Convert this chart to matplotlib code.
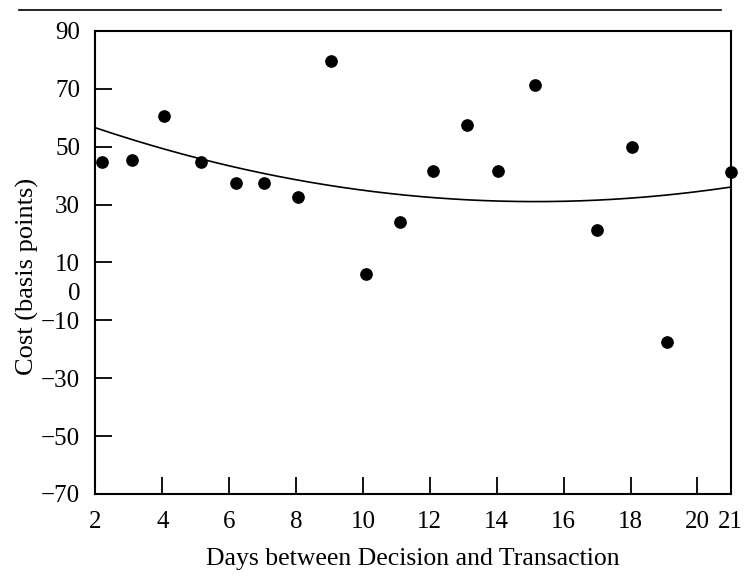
import numpy as np
import matplotlib
matplotlib.use("Agg")
import matplotlib.pyplot as plt
from matplotlib.lines import Line2D

plt.rcParams['font.family'] = ['Liberation Serif', 'DejaVu Serif']

# scatter points
days = [2.2, 3.1, 4.05, 5.15, 6.2, 7.05, 8.05, 9.05, 10.1, 11.1, 12.1, 13.1,
        14.05, 15.15, 17.0, 18.05, 19.1, 21.0]
cost = [44.8, 45.4, 60.7, 44.6, 37.3, 37.3, 32.5, 79.6, 6.0, 24.1, 41.5, 57.5,
        41.5, 71.5, 21.3, 49.9, -17.6, 41.2]

# points
curve_days = [2.0, 4.34, 6.7, 8.41, 11.4, 14.69, 16.08, 21.0]
curve_cost = [56.2, 49.1, 41.3, 37.5, 33.1, 30.9, 31.5, 36.0]

xticks = [2, 4, 6, 8, 10, 12, 14, 16, 18, 20, 21]
xticks_unmarked = [2, 21]
yticks = [-70, -50, -30, -10, 0, 10, 30, 50, 70, 90]
yticks_unmarked = [-70, 0, 90]

fig = plt.figure(figsize=(7.45, 5.8), dpi=100)
ax = fig.add_axes([0.128, 0.1483, 0.853, 0.7983])

# smooth quadratic through the read curve points
coef = np.polyfit(curve_days, curve_cost, 2)
xs = np.linspace(2, 21, 200)
ax.plot(xs, np.polyval(coef, xs), color='black', lw=1.2)
ax.scatter(days, cost, s=66, color='black', zorder=3, clip_on=False)

ax.set_xlim(2, 21)
ax.set_ylim(-70, 90)

ax.set_xticks(xticks)
ax.set_xticklabels([str(v) for v in xticks])
ax.set_yticks(yticks)
ax.set_yticklabels([('\u2212' + str(-v)) if v < 0 else str(v) for v in yticks])

ax.tick_params(direction='in', length=12, width=1.3, labelsize=18)
ax.tick_params(axis='y', pad=11)
ax.tick_params(axis='x', pad=12)

for t, v in zip(ax.xaxis.get_major_ticks(), xticks):
    if v in xticks_unmarked:
        t.tick1line.set_visible(False)
for t, v in zip(ax.yaxis.get_major_ticks(), yticks):
    if v in yticks_unmarked:
        t.tick1line.set_visible(False)

for s in ax.spines.values():
    s.set_linewidth(1.5)

ax.set_xlabel('Days between Decision and Transaction', fontsize=18.5, labelpad=11)
ax.set_ylabel('Cost (basis points)', fontsize=19)
ax.yaxis.set_label_coords(-0.088, 0.47)

# rule above the chart
fig.add_artist(Line2D([0.025, 0.968], [0.983, 0.983], color='black', lw=1.2,
                      transform=fig.transFigure))

fig.savefig('out.png', dpi=100)
